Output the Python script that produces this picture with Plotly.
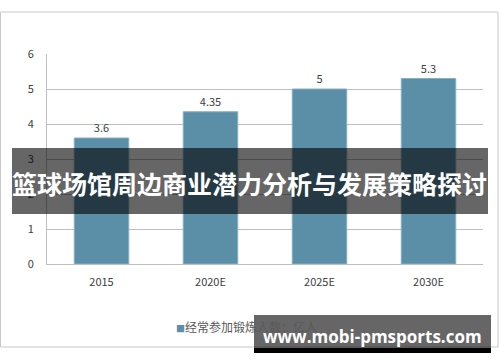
import plotly.graph_objects as go

categories = ["2015", "2020E", "2025E", "2030E"]
values = [3.6, 4.35, 5, 5.3]
value_labels = ["3.6", "4.35", "5", "5.3"]
series_name = "经常参加锻炼人数：亿人"
title_text = "篮球场馆周边商业潜力分析与发展策略探讨"
watermark_text = "www.mobi-pmsports.com"
bar_color = "#5b8fa7"

W, H = 500, 362
L, R, T, B = 47, 17, 54, 98
pw, ph = W - L - R, H - T - B


def px_x(x):
    return (x - L) / pw


def px_y(y):
    return (H - B - y) / ph


fig = go.Figure()
fig.add_trace(go.Bar(
    x=categories, y=values, name=series_name,
    marker=dict(color=bar_color, line=dict(color="#86afc1", width=1)),
    text=value_labels, textposition="outside",
    textfont=dict(family="Noto Sans CJK SC", size=11, color="#404040"),
    cliponaxis=False, showlegend=False,
))

fig.update_layout(
    width=W, height=H,
    margin=dict(l=L, r=R, t=T, b=B, autoexpand=False),
    paper_bgcolor="white", plot_bgcolor="white",
    bargap=0.5,
    showlegend=False,
    xaxis=dict(showgrid=False, showline=True, linecolor="#bfbfbf", ticks="",
               ticklabelstandoff=8,
               tickfont=dict(family="Noto Sans CJK SC", size=11, color="#404040")),
    yaxis=dict(range=[0, 6], dtick=1, showgrid=True, gridcolor="#bfbfbf", gridwidth=1,
               showline=True, linecolor="#bfbfbf", zeroline=False, ticks="",
               ticklabelstandoff=10,
               tickfont=dict(family="Noto Sans CJK SC", size=11, color="#404040")),
)

shapes = [
    dict(type="rect", xref="paper", yref="paper", x0=px_x(0.5), x1=px_x(498), y0=px_y(12), y1=px_y(347),
         line=dict(color="#c8c8c8", width=1), fillcolor="rgba(0,0,0,0)", layer="below"),
    dict(type="rect", xref="paper", yref="paper", x0=px_x(12), x1=px_x(488), y0=px_y(214), y1=px_y(148),
         line=dict(width=0), fillcolor="rgba(0,0,0,0.6)", layer="above"),
    dict(type="rect", xref="paper", yref="paper", x0=px_x(254), x1=px_x(491), y0=px_y(348), y1=px_y(315),
         line=dict(width=0), fillcolor="rgba(0,0,0,0.6)", layer="above"),
    dict(type="rect", xref="paper", yref="paper", x0=px_x(254), x1=px_x(491), y0=px_y(353), y1=px_y(348),
         line=dict(width=0), fillcolor="black", layer="above"),
]
fig.update_layout(shapes=shapes)

fig.add_annotation(xref="paper", yref="paper", x=px_x(174), y=px_y(326),
                   text=f"<span style='color:{bar_color};font-size:9px'>■</span>{series_name}",
                   showarrow=False, xanchor="left", yanchor="middle",
                   font=dict(family="Noto Sans CJK SC", size=12, color="#595959"))
fig.add_annotation(xref="paper", yref="paper", x=px_x(249), y=px_y(183), text=f"<b>{title_text}</b>",
                   showarrow=False, xanchor="center", yanchor="middle",
                   font=dict(family="Noto Sans CJK SC", size=25, color="white"))
fig.add_annotation(xref="paper", yref="paper", x=px_x(372), y=px_y(336), text=f"<b>{watermark_text}</b>",
                   showarrow=False, xanchor="center", yanchor="middle",
                   font=dict(family="Open Sans", size=17, color="white"))

fig.write_html("out.html", config={"displayModeBar": False},
               post_script="document.body.style.margin='0';")
